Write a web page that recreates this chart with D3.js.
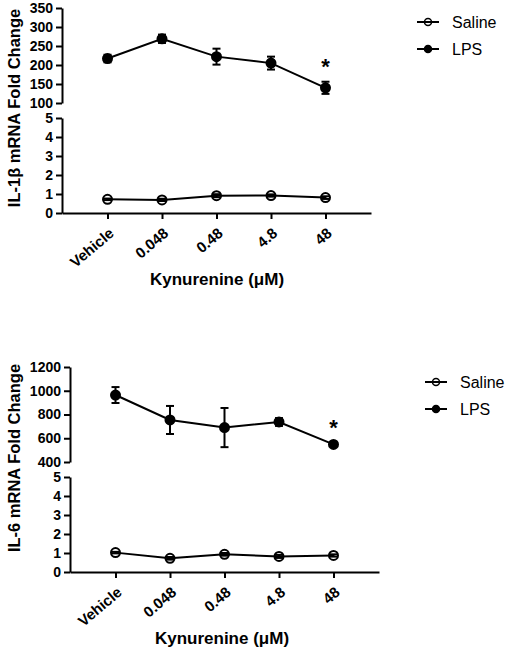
<!DOCTYPE html>
<html>
<head>
<meta charset="utf-8">
<script src="https://cdn.jsdelivr.net/npm/d3@7/dist/d3.min.js"></script>
<style>
  html, body { margin: 0; padding: 0; background: #fff; }
  svg { display: block; font-family: "Liberation Sans", Arial, Helvetica, sans-serif; }
  .axis text { font-size: 14px; font-weight: bold; fill: #000; }
  .axis path, .axis line { stroke: #000; stroke-width: 2; }
</style>
</head>
<body>
<svg id="chart" width="507" height="651"></svg>
<script>
// ---------------- DATA ----------------
const categories = ["Vehicle", "0.048", "0.48", "4.8", "48"];
const seriesNames = ["Saline", "LPS"];

// IL-1β panel
const il1bLPS      = [217, 269, 222, 205, 140];
const il1bLPSErr   = [10, 11, 21, 17, 16];
const il1bSaline   = [0.72, 0.69, 0.91, 0.92, 0.81];
const il1bSalineErr= [0.04, 0.06, 0.08, 0.06, 0.07];
const il1bUpperTicks = [100, 150, 200, 250, 300, 350];
const il1bSig = [false, false, false, false, true];

// IL-6 panel
const il6LPS       = [964, 754, 690, 737, 548];
const il6LPSErr    = [67, 118, 165, 33, 12];
const il6Saline    = [1.02, 0.72, 0.93, 0.82, 0.87];
const il6SalineErr = [0.04, 0.07, 0.07, 0.08, 0.06];
const il6UpperTicks = [400, 600, 800, 1000, 1200];
const il6Sig = [false, false, false, false, true];

const lowerTicks = [0, 1, 2, 3, 4, 5];

const yLabels = ["IL-1β mRNA Fold Change", "IL-6 mRNA Fold Change"];
const xTitle = "Kynurenine (μM)";

// ---------------- LAYOUT ----------------
const svg = d3.select("#chart");

const panels = [
  { lps: il1bLPS, lpsErr: il1bLPSErr, sal: il1bSaline, salErr: il1bSalineErr,
    upperTicks: il1bUpperTicks, sig: il1bSig, yLabel: yLabels[0],
    x0: 62, x1: 371, upTop: 8, upBot: 103, loTop: 118, loBot: 213,
    ylabX: 20, ylabY: 108, titleX: 217, titleY: 285,
    legX: 417, legY: [22, 49] },
  { lps: il6LPS, lpsErr: il6LPSErr, sal: il6Saline, salErr: il6SalineErr,
    upperTicks: il6UpperTicks, sig: il6Sig, yLabel: yLabels[1],
    x0: 70, x1: 379, upTop: 367, upBot: 462, loTop: 477, loBot: 572,
    ylabX: 20, ylabY: 458, titleX: 222, titleY: 644,
    legX: 425, legY: [382, 409] }
];

panels.forEach(p => {
  const g = svg.append("g");
  const x = d3.scalePoint().domain(categories).range([p.x0, p.x1]).padding(0.835);
  const up = d3.scaleLinear()
    .domain(d3.extent(p.upperTicks)).range([p.upBot, p.upTop]);
  const lo = d3.scaleLinear()
    .domain(d3.extent(lowerTicks)).range([p.loBot, p.loTop]);

  // axes
  g.append("g").attr("class", "axis")
    .attr("transform", `translate(${p.x0},0)`)
    .call(d3.axisLeft(up).tickValues(p.upperTicks).tickSize(6).tickSizeOuter(0).tickPadding(3).tickFormat(d3.format("d")));
  g.append("g").attr("class", "axis")
    .attr("transform", `translate(${p.x0},0)`)
    .call(d3.axisLeft(lo).tickValues(lowerTicks).tickSize(6).tickSizeOuter(0).tickPadding(3).tickFormat(d3.format("d")));
  const xa = g.append("g").attr("class", "axis")
    .attr("transform", `translate(0,${p.loBot})`)
    .call(d3.axisBottom(x).tickSize(6).tickSizeOuter(0));
  xa.selectAll("text")
    .attr("text-anchor", "end")
    .style("font-size", "15px")
    .attr("dy", null).attr("y", null)
    .attr("transform", "translate(7,22) rotate(-40)");

  // y label
  g.append("text")
    .attr("transform", `translate(${p.ylabX},${p.ylabY}) rotate(-90)`)
    .attr("text-anchor", "middle")
    .style("font-size", "16.5px").style("font-weight", "bold")
    .text(p.yLabel);

  // x title
  g.append("text")
    .attr("x", p.titleX).attr("y", p.titleY)
    .attr("text-anchor", "middle")
    .style("font-size", "17px").style("font-weight", "bold")
    .text(xTitle);

  const line = (scale) => d3.line().x((d, i) => x(categories[i])).y(d => scale(d));

  function drawSeries(vals, errs, scale, filled) {
    g.append("path").datum(vals)
      .attr("d", line(scale))
      .attr("fill", "none").attr("stroke", "#000").attr("stroke-width", 2);
    const eb = g.append("g");
    vals.forEach((v, i) => {
      const cx = x(categories[i]);
      const yt = scale(v + errs[i]), yb = scale(v - errs[i]);
      eb.append("line").attr("x1", cx).attr("x2", cx).attr("y1", yt).attr("y2", yb)
        .attr("stroke", "#000").attr("stroke-width", 2);
      [yt, yb].forEach(yy => eb.append("line")
        .attr("x1", cx - 4).attr("x2", cx + 4).attr("y1", yy).attr("y2", yy)
        .attr("stroke", "#000").attr("stroke-width", 2));
    });
    g.append("g").selectAll("circle").data(vals).join("circle")
      .attr("cx", (d, i) => x(categories[i]))
      .attr("cy", d => scale(d))
      .attr("r", 4.5)
      .attr("fill", filled ? "#000" : "none")
      .attr("stroke", "#000").attr("stroke-width", 2);
  }
  drawSeries(p.sal, p.salErr, lo, false);
  drawSeries(p.lps, p.lpsErr, up, true);

  // significance stars
  const starData = p.lps.map((v, i) => ({ v, i })).filter(d => p.sig[d.i]);
  g.append("g").selectAll("text").data(starData).join("text")
    .attr("x", d => x(categories[d.i]))
    .attr("y", d => up(d.v + p.lpsErr[d.i]) - 8)
    .attr("text-anchor", "middle")
    .style("font-size", "22px").style("font-weight", "bold")
    .text("*");

  // legend
  seriesNames.forEach((name, k) => {
    const ly = p.legY[k];
    const lg = g.append("g");
    lg.append("line").attr("x1", p.legX).attr("x2", p.legX + 22)
      .attr("y1", ly).attr("y2", ly).attr("stroke", "#000").attr("stroke-width", 2);
    lg.append("circle").attr("cx", p.legX + 11).attr("cy", ly).attr("r", 3.5)
      .attr("fill", k === 1 ? "#000" : "none").attr("stroke", "#000").attr("stroke-width", 1.5);
    lg.append("text").attr("x", p.legX + 35).attr("y", ly + 6)
      .style("font-size", "16px").text(name);
  });
});
</script>
</body>
</html>
